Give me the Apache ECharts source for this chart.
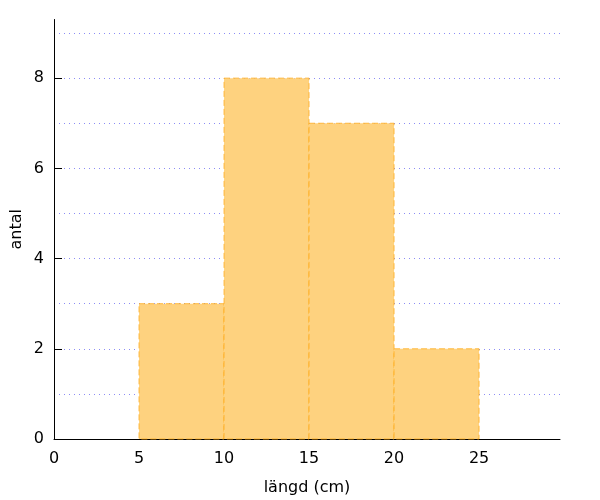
<!DOCTYPE html>
<html><head><meta charset="utf-8">
<script src="https://cdn.jsdelivr.net/npm/echarts@6/dist/echarts.min.js"></script>
<style>html,body{margin:0;padding:0;background:#fff}#c{width:600px;height:500px}</style>
</head><body><div id="c"></div>
<script>
const binStart = [5, 10, 15, 20];
const binEnd = [10, 15, 20, 25];
const counts = [3, 8, 7, 2];
const xTicks = [0, 5, 10, 15, 20, 25];
const yTicks = [0, 2, 4, 6, 8];

const data = binStart.map((s, i) => [s, binEnd[i], counts[i]]);
const font = 'DejaVu Sans';
const gridColor = '#8c8cf5';
const chart = echarts.init(document.getElementById('c'), null, {renderer: 'canvas'});
chart.setOption({
  animation: false,
  grid: {left: 54, right: 40, top: 19.5, bottom: 61, containLabel: false, outerBoundsMode: 'none'},
  xAxis: {
    type: 'value', min: 0, max: 29.76, interval: 5,
    name: 'längd (cm)', nameLocation: 'middle', nameGap: 41, nameMoveOverlap: false,
    nameTextStyle: {fontFamily: font, fontSize: 16, color: '#000'},
    axisLine: {show: true, lineStyle: {color: '#000', width: 1}},
    axisTick: {show: false},
    axisLabel: {fontFamily: font, fontSize: 16, color: '#000', margin: 12,
      formatter: v => xTicks.includes(v) ? String(v) : '', showMaxLabel: false},
    splitLine: {show: false}
  },
  yAxis: {
    type: 'value', min: 0, max: 9.3, interval: 2,
    name: 'antal', nameLocation: 'middle', nameGap: 29, nameMoveOverlap: false,
    nameTextStyle: {fontFamily: font, fontSize: 16, color: '#000'},
    axisLine: {show: true, lineStyle: {color: '#000', width: 1}},
    axisTick: {show: true, inside: true, length: 8, lineStyle: {color: '#000'}},
    axisLabel: {fontFamily: font, fontSize: 16, color: '#000', margin: 10,
      formatter: v => yTicks.includes(v) ? String(v) : '', showMaxLabel: false},
    splitLine: {show: true, showMaxLine: false, lineStyle: {color: gridColor, type: [1, 4], width: 1}},
    minorTick: {show: false, splitNumber: 2},
    minorSplitLine: {show: true, lineStyle: {color: gridColor, type: [1, 4], width: 1}}
  },
  series: [{
    type: 'custom',
    data: data,
    encode: {x: [0, 1], y: 2},
    renderItem: function (params, api) {
      const p0 = api.coord([api.value(0), api.value(2)]);
      const p1 = api.coord([api.value(1), 0]);
      return {
        type: 'rect',
        shape: {x: p0[0], y: p0[1], width: p1[0] - p0[0], height: p1[1] - p0[1]},
        style: {fill: '#fed27f', stroke: 'rgba(255,170,20,0.75)', lineWidth: 1, lineDash: [6, 3]}
      };
    }
  }]
});
</script></body></html>
